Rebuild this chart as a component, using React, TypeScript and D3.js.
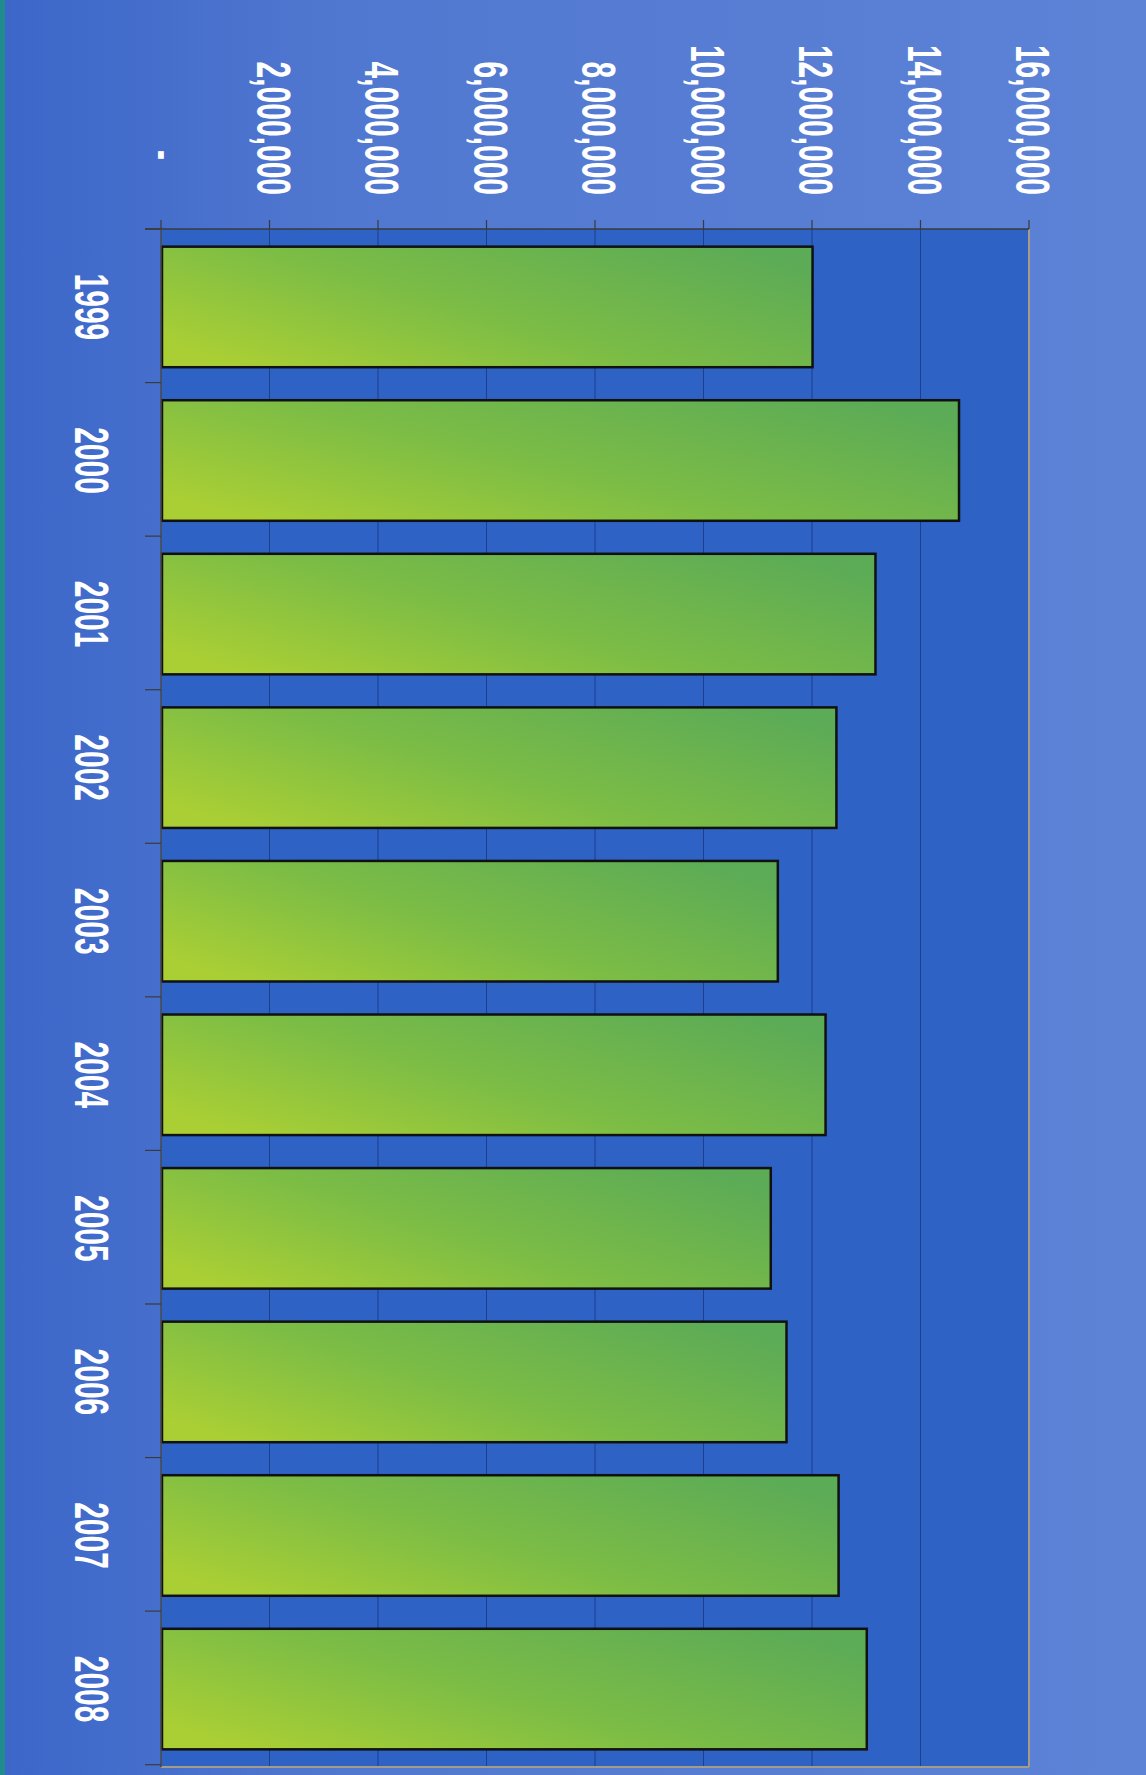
import React from "react";
import * as d3 from "d3";

const years = ["1999", "2000", "2001", "2002", "2003", "2004", "2005", "2006", "2007", "2008"];
const values = [12010000, 14710000, 13170000, 12450000, 11370000, 12250000, 11240000, 11530000, 12490000, 13010000];
const tickValues = [0, 2000000, 4000000, 6000000, 8000000, 10000000, 12000000, 14000000, 16000000];
const tickLabels = ["-", "2,000,000", "4,000,000", "6,000,000", "8,000,000", "10,000,000", "12,000,000", "14,000,000", "16,000,000"];

const W = 1146;
const H = 1775;
const left = 161;
const right = 1029;
const top = 229;
const bottom = 1767;

const FS = 30;
const STRETCH = 1.63;
const CAP = FS * 0.716;

export default function App() {
  const x = d3.scaleLinear().domain([0, 16000000]).range([left, right]);
  const y = d3.scaleBand<string>().domain(years).range([top, bottom]).paddingInner(0.215).paddingOuter(0.115);
  const step = y.step();
  const boundaries = d3.range(years.length + 1).map((i) => top + i * step);

  return (
    <div style={{ position: "absolute", left: 0, top: 0, width: W, height: H, overflow: "hidden" }}>
      <svg width={W} height={H} style={{ display: "block" }} fontFamily="'Liberation Sans', Arial, sans-serif">
        <defs>
          <linearGradient id="bg" x1="0" y1="0" x2="1" y2="0">
            <stop offset="0" stopColor="#3c67c9" />
            <stop offset="0.3" stopColor="#5178d0" />
            <stop offset="1" stopColor="#5d83d7" />
          </linearGradient>
          <linearGradient id="barGrad" x1="0" y1="0.8" x2="1" y2="0.2">
            <stop offset="0" stopColor="#aacf34" />
            <stop offset="0.45" stopColor="#7dbd45" />
            <stop offset="1" stopColor="#5cab56" />
          </linearGradient>
        </defs>
        <rect x={0} y={0} width={W} height={H} fill="url(#bg)" />
        <rect x={0} y={0} width={5} height={H} fill="#1f8c8e" />
        {/* plot area */}
        <rect x={left} y={top} width={right - left} height={bottom - top} fill="#2e62c5" />
        {/* gridlines */}
        {tickValues.slice(1, -1).map((v) => (
          <line key={"g" + v} x1={x(v)} x2={x(v)} y1={top} y2={bottom} stroke="#1d3f8e" strokeWidth={1} />
        ))}
        {/* right & bottom border */}
        <line x1={right} x2={right} y1={top} y2={bottom} stroke="#a59c86" strokeWidth={2} />
        <line x1={left} x2={right} y1={bottom} y2={bottom} stroke="#a59c86" strokeWidth={2} />
        {/* bars */}
        {years.map((yr, i) => (
          <rect
            key={yr}
            x={x(0) + 1}
            y={y(yr)}
            width={x(values[i]) - x(0) - 1}
            height={y.bandwidth()}
            fill="url(#barGrad)"
            stroke="#111"
            strokeWidth={2.5}
          />
        ))}
        {/* axes */}
        <line x1={145} x2={right} y1={top} y2={top} stroke="#3a3a3a" strokeWidth={1.5} />
        <line x1={left} x2={left} y1={top} y2={bottom} stroke="#4a4a4a" strokeWidth={1.5} />
        {tickValues.map((v) => (
          <line key={"t" + v} x1={x(v)} x2={x(v)} y1={top - 9} y2={top} stroke="#3a3a3a" strokeWidth={1.2} />
        ))}
        {boundaries.map((b, i) => (
          <line key={"c" + i} x1={145} x2={left} y1={b} y2={b} stroke="#3a3a3a" strokeWidth={1.2} />
        ))}
        {/* value tick labels */}
        {tickValues.map((v, i) => (
          <g key={"l" + v} transform={`translate(${x(v) + 5}, ${i === 0 ? 160 : 195}) rotate(90) scale(1, ${STRETCH})`}>
            <text x={0} y={CAP / 2} textAnchor="end" fontSize={FS} fontWeight="bold" fill="#ffffff">
              {tickLabels[i]}
            </text>
          </g>
        ))}
        {/* category labels */}
        {years.map((yr) => (
          <g key={"yl" + yr} transform={`translate(93, ${(y(yr) as number) + y.bandwidth() / 2}) rotate(90) scale(1, ${STRETCH})`}>
            <text x={0} y={CAP / 2} textAnchor="middle" fontSize={FS} fontWeight="bold" fill="#ffffff">
              {yr}
            </text>
          </g>
        ))}
      </svg>
    </div>
  );
}
